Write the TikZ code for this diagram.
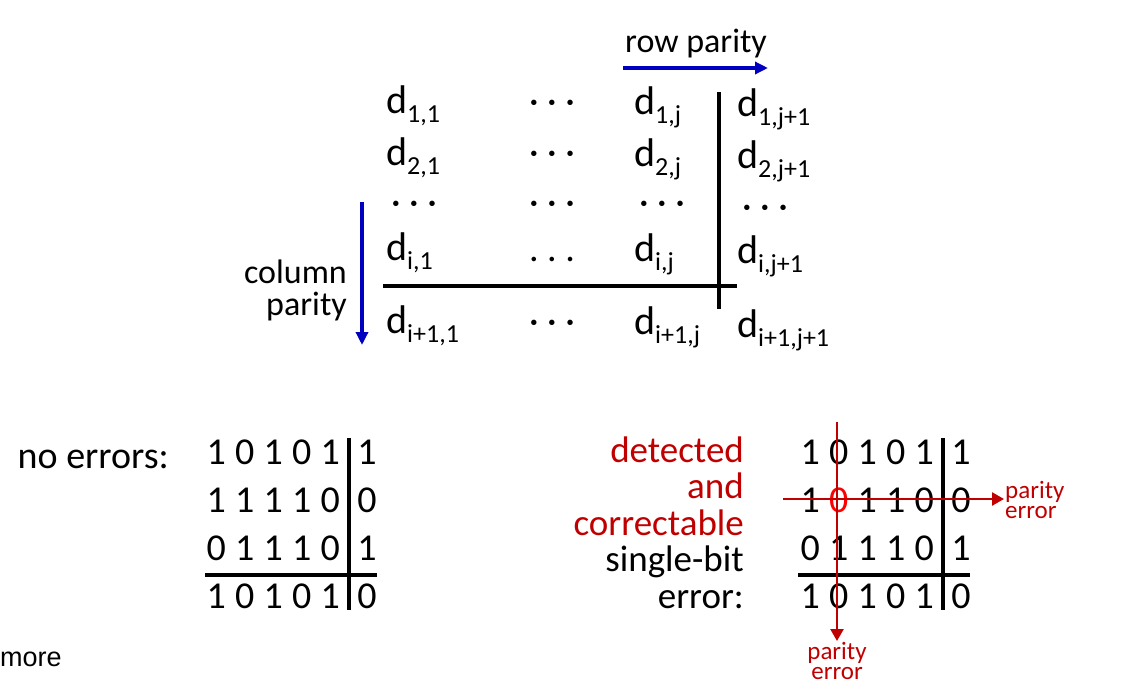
\documentclass[tikz,border=0pt]{standalone}
\usepackage{fontspec}
\setmainfont{Carlito}
\newfontfamily\arialfont{Liberation Sans}
\usetikzlibrary{arrows.meta}
\definecolor{parblue}{RGB}{0,0,192}
\definecolor{errred}{RGB}{192,0,0}
\definecolor{flipred}{RGB}{255,0,0}
\newcommand{\dsub}[1]{d\raisebox{-9pt}{\fontsize{26pt}{26pt}\selectfont #1}}
\newcommand{\bitrow}[5]{\makebox[28.5pt]{#1}\makebox[28.5pt]{#2}\makebox[28.5pt]{#3}\makebox[28.5pt]{#4}\makebox[28.5pt]{#5}}
\newcommand{\middots}{\textperiodcentered\ \textperiodcentered\ \textperiodcentered}

\begin{document}
\begin{tikzpicture}[x=1pt, y=-1pt,
  entry/.style={inner sep=0pt, anchor=base west, font=\fontsize{38pt}{38pt}\selectfont},
  dent/.style={entry, font=\fontsize{40pt}{40pt}\selectfont},
  lbl/.style={inner sep=0pt, font=\fontsize{34pt}{34pt}\selectfont},
  small/.style={inner sep=1pt, text=errred, font=\fontsize{25pt}{20pt}\selectfont},
  rule/.style={line width=3.3pt},
  parr/.style={parblue, line width=3.5pt, -{Triangle[length=13pt, width=12pt]}},
  earr/.style={errred, line width=2.5pt, -{Triangle[length=12pt, width=13pt]}}]
\useasboundingbox (0,0) rectangle (1130,691);
% general scheme
\node[lbl, anchor=base west] (rowlbl) at (625,52) {row parity};
\node[lbl, anchor=base east] (collbl) at (347,283) {column};
\node[lbl, anchor=base east] (collbl2) at (347,315) {parity};
\node[dent] (d11) at (386,113) {\dsub{1,1}};
\node[dent] (d1j) at (634,114) {\dsub{1,j}};
\node[dent] (d1k) at (737,116) {\dsub{1,j+1}};
\node[dent] (d21) at (386,165) {\dsub{2,1}};
\node[dent] (d2j) at (634,166) {\dsub{2,j}};
\node[dent] (d2k) at (737,168) {\dsub{2,j+1}};
\node[dent] (di1) at (386,260) {\dsub{i,1}};
\node[dent] (dij) at (634,261) {\dsub{i,j}};
\node[dent] (dik) at (737,263) {\dsub{i,j+1}};
\node[dent] (dn1) at (386,333) {\dsub{i+1,1}};
\node[dent] (dnj) at (634,334) {\dsub{i+1,j}};
\node[dent] (dnk) at (737,337) {\dsub{i+1,j+1}};
\node[entry, anchor=base] (c1) at (552,113) {\middots};
\node[entry, anchor=base] (c2) at (552,164) {\middots};
\node[entry, anchor=base] (r1) at (414,214) {\middots};
\node[entry, anchor=base] (r2) at (552,214) {\middots};
\node[entry, anchor=base] (r3) at (662,214) {\middots};
\node[entry, anchor=base] (r4) at (765,218) {\middots};
\node[entry, anchor=base] (ci) at (552,261) {.\ .\ .};
\node[entry, anchor=base] (cn) at (552,333) {\middots};
\coordinate (vtop) at (719,92); \coordinate (vbot) at (719,309);
\coordinate (hleft) at (383,286); \coordinate (hright) at (737,286);
\coordinate (rowa) at (623,68); \coordinate (rowb) at (768,68);
\coordinate (cola) at (362,202); \coordinate (colb) at (362,345);
\draw[rule] (vtop) -- (vbot); \draw[rule] (hleft) -- (hright);
\draw[parr] (rowa) -- (rowb); \draw[parr] (cola) -- (colb);
% no errors
\node[entry, anchor=base east] (noerr) at (169,468) {no errors:};
\node[entry] (a1) at (201.75,464) {\bitrow10101};
\node[entry] (a2) at (201.75,512) {\bitrow11110};
\node[entry] (a3) at (201.75,560) {\bitrow01110};
\node[entry] (a4) at (201.75,608) {\bitrow10101};
\node[entry, anchor=base] (a1p) at (367,464) {1};
\node[entry, anchor=base] (a2p) at (367,512) {0};
\node[entry, anchor=base] (a3p) at (367,560) {1};
\node[entry, anchor=base] (a4p) at (367,608) {0};
\coordinate (avt) at (349,438); \coordinate (avb) at (349,610);
\coordinate (ahl) at (205,575); \coordinate (ahr) at (377,575);
\draw[rule] (avt) -- (avb); \draw[rule] (ahl) -- (ahr);
% single-bit error
\node[entry, anchor=base east, align=right, font=\fontsize{37pt}{36.5pt}\selectfont] (errlbl) at (744,608)
  {\textcolor{errred}{detected}\\ \textcolor{errred}{and}\\ \textcolor{errred}{correctable}\\ single-bit\\ error:};
\node[entry] (b1) at (795.75,464) {\bitrow10101};
\node[entry] (b2) at (795.75,512) {\bitrow1{\color{flipred}0}110};
\node[entry] (b3) at (795.75,560) {\bitrow01110};
\node[entry] (b4) at (795.75,608) {\bitrow10101};
\node[entry, anchor=base] (b1p) at (961,464) {1};
\node[entry, anchor=base] (b2p) at (961,512) {0};
\node[entry, anchor=base] (b3p) at (961,560) {1};
\node[entry, anchor=base] (b4p) at (961,608) {0};
\coordinate (bvt) at (943,438); \coordinate (bvb) at (943,610);
\coordinate (bhl) at (798,575); \coordinate (bhr) at (970,575);
\draw[rule] (bvt) -- (bvb); \draw[rule] (bhl) -- (bhr);
\node[small, anchor=west, align=left] (prow) at (1004,500) {parity\\ error};
\node[small, anchor=north, align=center] (pcol) at (837,641) {parity\\ error};
\coordinate (etop) at (837,422); \coordinate (eleft) at (783,499);
\draw[earr] (etop) -- (pcol.north); \draw[earr] (eleft) -- (prow.west |- eleft);
% cut-off note
\node[inner sep=0pt, anchor=base west, font=\arialfont\fontsize{27pt}{27pt}\selectfont] (more) at (0,666) {more};
\end{tikzpicture}
\end{document}
